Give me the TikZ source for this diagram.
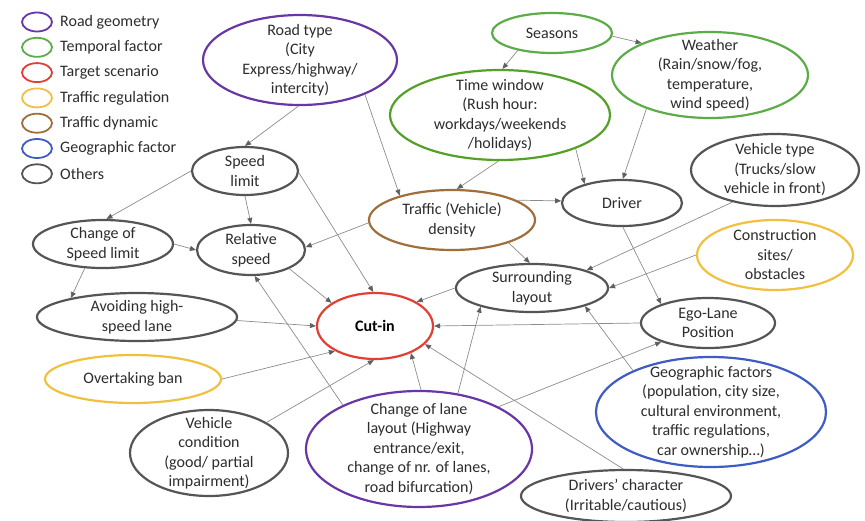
\documentclass[tikz,border=0pt]{standalone}
\usepackage{fontspec}
\setmainfont{Carlito}
\usetikzlibrary{shapes.geometric,arrows.meta}
\definecolor{cpurple}{RGB}{105,55,165}
\definecolor{cgreen}{RGB}{92,172,72}
\definecolor{cgreenb}{RGB}{84,160,40}
\definecolor{cred}{RGB}{226,62,52}
\definecolor{cyellow}{RGB}{240,192,64}
\definecolor{cbrown}{RGB}{160,110,58}
\definecolor{cblue}{RGB}{62,92,196}
\definecolor{cgray}{RGB}{85,85,85}
\definecolor{ctext}{RGB}{45,45,45}
\definecolor{cedge}{RGB}{140,140,140}
\definecolor{ctip}{RGB}{95,95,95}
\tikzset{
  ov/.style={ellipse, draw=#1, line width=2.2pt, inner sep=0pt, fill=white},
  lg/.style={ellipse, draw=#1, line width=1.8pt, inner sep=0pt, minimum width=30, minimum height=19},
  txt/.style={align=center, text=ctext, inner sep=0pt, font=\fontsize{16}{19.5}\selectfont},
  lgt/.style={anchor=west, text=ctext, inner sep=0pt, font=\fontsize{16}{19.5}\selectfont},
  ar/.style={draw=cedge, line width=0.7pt, -{Triangle[length=6pt,width=5pt,color=ctip]}}
}
\begin{document}
\begin{tikzpicture}[x=1pt,y=-1pt]
\useasboundingbox (0,0) rectangle (865,520);
% legend
\foreach \c/\t [count=\i] in {cpurple/Road geometry,cgreen/Temporal factor,cred/Target scenario,cyellow/Traffic regulation,cbrown/Traffic dynamic,cblue/Geographic factor,cgray/Others}{
  \node[lg=\c] (leg\i) at (37,{22+25.3*(\i-1)}) {};
  \node[lgt] (legt\i) at (60,{22+25.3*(\i-1)}) {\t};
}
% nodes
\node[ov=cpurple, minimum width=194, minimum height=90] (rt) at (300,60) {};
\node[txt] (rtt) at (rt) {Road type\\(City\\Express/highway/\\intercity)};
\node[ov=cgreen, minimum width=120, minimum height=40] (se) at (552,33) {};
\node[txt] (set) at (se) {Seasons};
\node[ov=cgreen, minimum width=196, minimum height=86] (we) at (710,75) {};
\node[txt] (wet) at (we) {Weather\\(Rain/snow/fog,\\temperature,\\wind speed)};
\node[ov=cgreenb, minimum width=220, minimum height=90] (tw) at (500,115) {};
\node[txt] (twt) at (tw) {Time window\\(Rush hour:\\workdays/weekends\\/holidays)};
\node[ov=cgray, minimum width=106, minimum height=48] (sl) at (245,171) {};
\node[txt] (slt) at (sl) {Speed\\limit};
\node[ov=cgray, minimum width=168, minimum height=72] (vt) at (775,170) {};
\node[txt] (vtt) at (vt) {Vehicle type\\(Trucks/slow\\vehicle in front)};
\node[ov=cgray, minimum width=120, minimum height=46] (dr) at (622,203) {};
\node[txt] (drt) at (dr) {Driver};
\node[ov=cbrown, minimum width=166, minimum height=60] (td) at (452,220) {};
\node[txt] (tdt) at (td) {Traffic (Vehicle)\\density};
\node[ov=cgray, minimum width=140, minimum height=48] (csl) at (103,244) {};
\node[txt] (cslt) at (csl) {Change of\\Speed limit};
\node[ov=cgray, minimum width=108, minimum height=50] (rs) at (251,250) {};
\node[txt] (rst) at (rs) {Relative\\speed};
\node[ov=cyellow, minimum width=156, minimum height=70] (cs) at (775,255) {};
\node[txt] (cst) at (cs) {Construction\\sites/\\obstacles};
\node[ov=cgray, minimum width=152, minimum height=48] (su) at (532,288) {};
\node[txt] (sut) at (su) {Surrounding\\layout};
\node[ov=cgray, minimum width=200, minimum height=48] (av) at (137,317) {};
\node[txt] (avt) at (av) {Avoiding high-\\speed lane};
\node[ov=cred, minimum width=116, minimum height=66] (ci) at (375,326) {};
\node[txt, font=\fontsize{16}{19.5}\selectfont\bfseries, text=black] (cit) at (ci) {Cut-in};
\node[ov=cgray, minimum width=134, minimum height=50] (eg) at (708,323) {};
\node[txt] (egt) at (eg) {Ego-Lane\\Position};
\node[ov=cyellow, minimum width=176, minimum height=48] (ob) at (133,379) {};
\node[txt] (obt) at (ob) {Overtaking ban};
\node[ov=cblue, minimum width=230, minimum height=110] (gf) at (711,412) {};
\node[txt] (gft) at (gf) {Geographic factors\\(population, city size,\\cultural environment,\\traffic regulations,\\car ownership…)};
\node[ov=cgray, minimum width=158, minimum height=86] (vc) at (209,453) {};
\node[txt] (vct) at (vc) {Vehicle\\condition\\(good/ partial\\impairment)};
\node[ov=cpurple, minimum width=226, minimum height=116] (cl) at (419,449) {};
\node[txt] (clt) at (cl) {Change of lane\\layout (Highway\\entrance/exit,\\change of nr. of lanes,\\road bifurcation)};
\node[ov=cgray, minimum width=210, minimum height=52] (dc) at (626,496) {};
\node[txt] (dct) at (dc) {Drivers’ character\\(Irritable/cautious)};
% edges
\draw[ar] (rt.-92) -- (sl.north);
\draw[ar] (rt.-28) -- (td.155);
\draw[ar] (se.-153) -- (tw.87);
\draw[ar] (se.-3) -- (we.155);
\draw[ar] (tw.-92) -- (td.81);
\draw[ar] (tw.-24) -- (dr.153);
\draw[ar] (we.-152) -- (dr.88);
\draw[ar] (td.17) -- (dr.178);
\draw[ar] (td.182) -- (rs.3);
\draw[ar] (td.-22) -- (su.95);
\draw[ar] (sl.south) -- (rs.north);
\draw[ar] (sl.-2) -- (ci.93);
\draw[ar] (sl.180) -- (csl.82);
\draw[ar] (csl.0) -- (rs.180);
\draw[ar] (csl.-127) -- (av.164);
\draw[ar] (rs.-26) -- (ci.152);
\draw[ar] (av.-2) -- (ci.180);
\draw[ar] (ob.0) -- (ci.212);
\draw[ar] (vc.28) -- (ci.-92);
\draw[ar] (cl.150) -- (rs.-82);
\draw[ar] (cl.88) -- (ci.-37);
\draw[ar] (cl.55) -- (su.200);
\draw[ar] (cl.28) -- (eg.202);
\draw[ar] (dc.96) -- (ci.-20);
\draw[ar] (gf.152) -- (su.-19);
\draw[ar] (su.180) -- (ci.30);
\draw[ar] (eg.180) -- (ci.0);
\draw[ar] (dr.-88) -- (eg.158);
\draw[ar] (vt.217) -- (su.18);
\draw[ar] (cs.180) -- (su.0);
\end{tikzpicture}
\end{document}
